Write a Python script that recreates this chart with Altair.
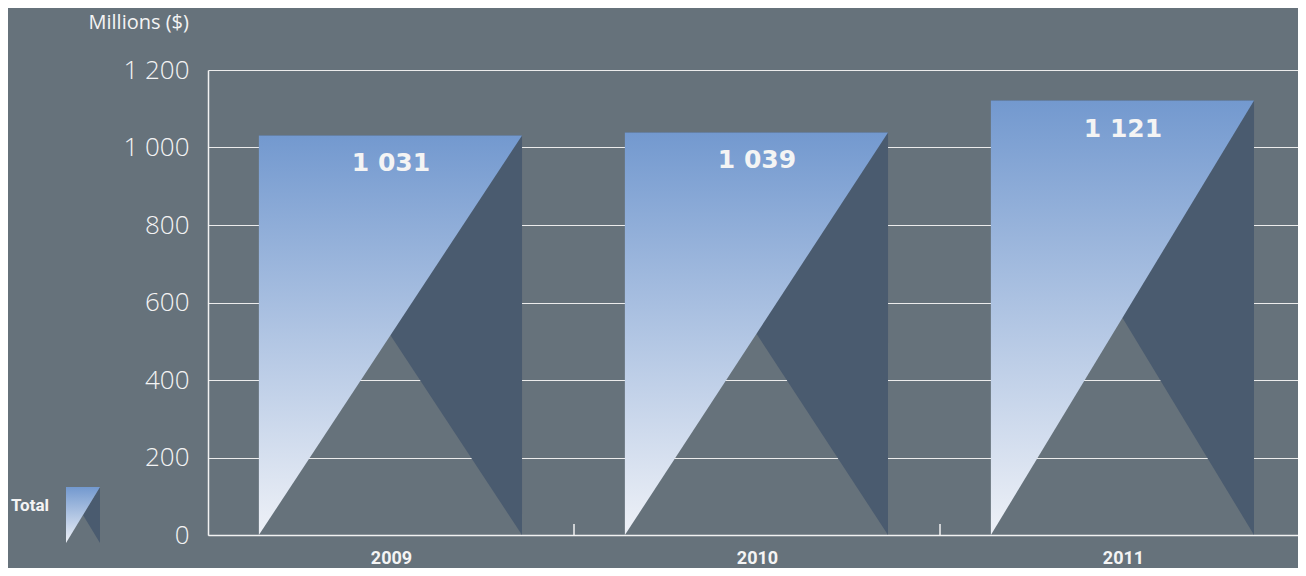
import json
import altair as alt
import pandas as pd

# ---- data ----
years = ["2009", "2010", "2011"]
totals = [1031, 1039, 1121]
y_ticks = [0, 200, 400, 600, 800, 1000, 1200]
series_name = "Total"
axis_title = "Millions ($)"

# ---- style constants ----
BG = "#66727b"
DARK = "#4a5b6f"
LIGHT_TOP = "#7399cf"
LIGHT_BOTTOM = "#eef1f7"
TXT = "#f4f4f4"
LEFT = 0.139   # triangle start within a category band
RIGHT = 0.858  # triangle end within a category band
BAND_PX = 366  # pixel width of one category band
W, H = 1090, 465

light_rows, dark_rows, text_rows = [], [], []
for i, (yr, v) in enumerate(zip(years, totals)):
    light_rows += [
        {"year": yr, "x": i + LEFT, "y": 0, "y2": v},
        {"year": yr, "x": i + RIGHT, "y": v, "y2": v},
    ]
    dark_rows += [
        {"year": yr, "x": i + LEFT, "y": v, "y2": v},
        {"year": yr, "x": i + RIGHT, "y": 0, "y2": v},
    ]
    text_rows.append({"year": yr, "x": i + 0.5, "v": v,
                      "label": f"{v:,}".replace(",", " ")})

light_df = pd.DataFrame(light_rows)
dark_df = pd.DataFrame(dark_rows)
text_df = pd.DataFrame(text_rows)
bounds_df = pd.DataFrame({"x": list(range(1, len(years)))})

x_scale = alt.Scale(domain=[0, W / BAND_PX], nice=False, zero=False)
y_scale = alt.Scale(domain=[y_ticks[0], y_ticks[-1]], nice=False)

x_axis = alt.Axis(
    values=[i + 0.5 for i in range(len(years))],
    labelExpr=f"{json.dumps(years)}[floor(datum.value)]",
    ticks=False, grid=False, domain=True, domainColor="#f2f2f2", domainWidth=1.5,
    labelFont="Roboto", labelFontWeight="bold", labelFontSize=18,
    labelColor=TXT, labelPadding=14, title=None,
)
y_axis = alt.Axis(
    values=y_ticks, ticks=False, grid=True, gridColor="#ececec", gridWidth=1,
    domain=True, domainColor="#f2f2f2", domainWidth=1.5,
    labelExpr="replace(format(datum.value, ','), ',', ' ')",
    labelFont="Open Sans", labelFontSize=26, labelFontWeight=300,
    labelColor=TXT, labelPadding=19,
    title=axis_title, titleAngle=0, titleAlign="left", titleBaseline="middle",
    titleX=-120, titleY=-48, titleFont="Open Sans", titleFontSize=20,
    titleFontWeight="normal", titleColor=TXT,
)

gradient = alt.Gradient(
    gradient="linear",
    stops=[alt.GradientStop(color=LIGHT_BOTTOM, offset=0),
           alt.GradientStop(color=LIGHT_TOP, offset=1)],
    x1=0, x2=0, y1=1, y2=0,
)

dark = alt.Chart(dark_df).mark_area(color=DARK, line=False).encode(
    x=alt.X("x:Q", scale=x_scale, axis=x_axis),
    y=alt.Y("y:Q", scale=y_scale, axis=y_axis),
    y2="y2:Q",
    detail="year:N",
)
light = alt.Chart(light_df).mark_area(color=gradient, line=False).encode(
    x=alt.X("x:Q", scale=x_scale),
    y=alt.Y("y:Q", scale=y_scale),
    y2="y2:Q",
    detail="year:N",
)
labels = alt.Chart(text_df).mark_text(
    font="DejaVu Sans", fontWeight="bold", fontSize=25, color=TXT,
    baseline="middle", align="center", dy=28,
).encode(x=alt.X("x:Q", scale=x_scale), y=alt.Y("v:Q", scale=y_scale), text="label:N")

ticks = alt.Chart(bounds_df).mark_rule(color="#f2f2f2", strokeWidth=1.5).encode(
    x=alt.X("x:Q", scale=x_scale), y=alt.value(H), y2=alt.value(H - 11)
)

# legend helpers (no visible points: y is null so they are filtered out)
LIGHT_PATH = "M-1,-1L0.214,-1L-1,1Z"
DARK_PATH = "M0.214,-1L0.214,1L-0.393,0Z"
leg_df = pd.DataFrame({"x": [0.5], "y": [None], "light": [series_name], "dark": [series_name]})
legend_common = dict(
    orient="none", legendX=-197, legendY=417, padding=0,
    titleOrient="left", titleFont="Roboto", titleFontWeight="bold",
    titleFontSize=17, titleColor=TXT, titlePadding=16, labelExpr="''",
    titleAnchor="start", titleBaseline="line-top", titleLineHeight=39,
    symbolSize=3136, symbolStrokeWidth=0, symbolOpacity=1,
)
grad_expr = ("{gradient: 'linear', x1: 0, y1: 1, x2: 0, y2: 0, stops: ["
             f"{{offset: 0, color: '{LIGHT_BOTTOM}'}}, {{offset: 1, color: '{LIGHT_TOP}'}}]}}")
leg_dark = alt.Chart(leg_df).mark_point(filled=True, size=3136, color=DARK).encode(
    x=alt.X("x:Q", scale=x_scale), y=alt.Y("y:Q", scale=y_scale),
    shape=alt.Shape("dark:N", scale=alt.Scale(domain=[series_name], range=[DARK_PATH]),
                    legend=alt.Legend(title=series_name, titleOpacity=0,
                                      symbolFillColor=DARK, **legend_common)),
)
leg_light = alt.Chart(leg_df).mark_point(filled=True, size=3136, color=gradient).encode(
    x=alt.X("x:Q", scale=x_scale), y=alt.Y("y:Q", scale=y_scale),
    shape=alt.Shape("light:N", scale=alt.Scale(domain=[series_name], range=[LIGHT_PATH]),
                    legend=alt.Legend(title=series_name,
                                      symbolFillColor={"expr": grad_expr}, **legend_common)),
)

chart = (
    alt.layer(dark, light, ticks, labels, leg_dark, leg_light)
    .resolve_scale(shape="independent")
    .resolve_legend(shape="independent")
    .properties(
        width=W, height=H, background=BG,
        autosize=alt.AutoSizeParams(type="none"),
        padding={"left": 200, "top": 62, "right": 0, "bottom": 33},
    )
    .configure_view(stroke=None, fill=BG)
)

chart.save("out.html", embed_options={"renderer": "svg", "actions": False})
